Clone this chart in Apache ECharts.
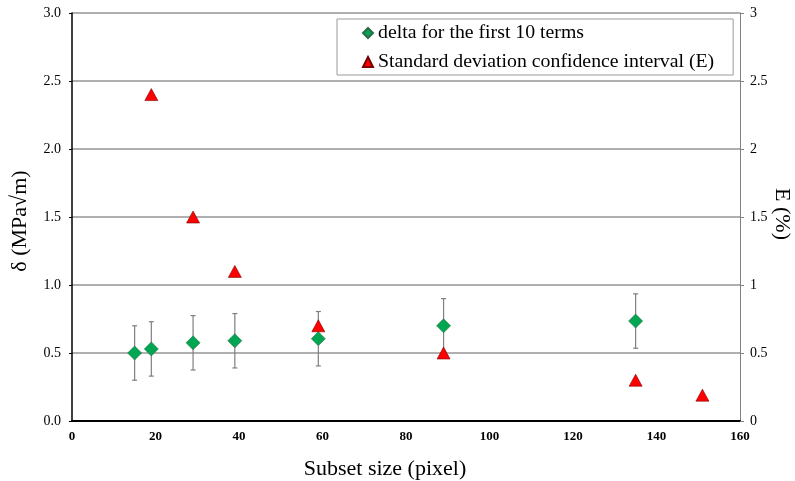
<!DOCTYPE html>
<html>
<head>
<meta charset="utf-8">
<script src="https://cdn.jsdelivr.net/npm/echarts@6/dist/echarts.min.js"></script>
<style>html,body{margin:0;padding:0;background:#fff;}#chart{width:795px;height:481px;}</style>
</head>
<body>
<div id="chart"></div>
<script>
var subsetSize = [15, 19, 29, 39, 59, 89, 135];
var deltaValues = [0.50, 0.53, 0.575, 0.59, 0.605, 0.70, 0.735];
var deltaError = [0.20, 0.20, 0.20, 0.20, 0.20, 0.20, 0.20];
var eSubsetSize = [19, 29, 39, 59, 89, 135, 151];
var eValues = [2.40, 1.50, 1.10, 0.70, 0.50, 0.30, 0.19];
var seriesNames = ['delta for the first 10 terms', 'Standard deviation confidence interval (E)'];

var FONT = 'Liberation Serif';
var chart = echarts.init(document.getElementById('chart'), null, {renderer: 'canvas'});

var deltaData = subsetSize.map(function (x, i) { return [x, deltaValues[i]]; });
var errData = subsetSize.map(function (x, i) { return [x, deltaValues[i] - deltaError[i], deltaValues[i] + deltaError[i]]; });
var eData = eSubsetSize.map(function (x, i) { return [x, eValues[i]]; });

var option = {
  backgroundColor: '#fff',
  animation: false,
  grid: {left: 72, right: 55, top: 13, bottom: 60, containLabel: false, outerBoundsMode: 'none'},
  legend: {
    data: [
      {name: seriesNames[0], icon: 'diamond'},
      {name: seriesNames[1], icon: 'triangle'}
    ],
    orient: 'vertical',
    left: 337, top: 19,
    padding: [4, 19, 3, 25],
    itemGap: 9,
    itemWidth: 10, itemHeight: 10,
    borderColor: '#9a9a9a', borderWidth: 1,
    textStyle: {fontFamily: FONT, fontSize: 19.8, color: '#000'}
  },
  xAxis: {
    type: 'value', min: 0, max: 160, interval: 20,
    name: 'Subset size (pixel)', nameLocation: 'middle', nameGap: 37, nameMoveOverlap: false,
    nameTextStyle: {fontFamily: FONT, fontSize: 22, color: '#000', padding: [0, 42, 0, 0]},
    axisLine: {lineStyle: {color: '#000', width: 2}},
    axisTick: {show: false},
    axisLabel: {fontFamily: FONT, fontSize: 13, fontWeight: 'bold', color: '#000', margin: 9},
    splitLine: {show: false}
  },
  yAxis: [{
    type: 'value', min: 0, max: 3, interval: 0.5, position: 'left',
    name: 'δ (MPa√m)', nameLocation: 'middle', nameGap: 41, nameMoveOverlap: false,
    nameTextStyle: {fontFamily: FONT, fontSize: 22, color: '#000', padding: [0, 8, 0, 0]},
    axisLine: {show: true, lineStyle: {color: '#000', width: 1.5}},
    axisTick: {show: true, length: 3, lineStyle: {color: '#000'}},
    axisLabel: {fontFamily: FONT, fontSize: 14, color: '#000', margin: 11,
      formatter: function (v) { return v.toFixed(1); }},
    splitLine: {show: true, lineStyle: {color: '#b0b0b0', width: 1.8}}
  }, {
    type: 'value', min: 0, max: 3, interval: 0.5, position: 'right',
    name: 'E (%)', nameLocation: 'middle', nameGap: 31, nameRotate: -90, nameMoveOverlap: false,
    nameTextStyle: {fontFamily: FONT, fontSize: 22, color: '#000', padding: [0, 6, 0, 0]},
    axisLine: {show: true, lineStyle: {color: '#808080', width: 1}},
    axisTick: {show: true, length: 4, lineStyle: {color: '#808080'}},
    axisLabel: {fontFamily: FONT, fontSize: 14, color: '#000', margin: 10},
    splitLine: {show: false}
  }],
  series: [{
    name: 'errorbars',
    type: 'custom',
    yAxisIndex: 0,
    data: errData,
    z: 1,
    renderItem: function (params, api) {
      var x = api.value(0);
      var lo = api.coord([x, api.value(1)]);
      var hi = api.coord([x, api.value(2)]);
      var cap = 2.5;
      var style = {stroke: '#7f7f7f', lineWidth: 1.2};
      return {type: 'group', children: [
        {type: 'line', shape: {x1: hi[0], y1: hi[1], x2: lo[0], y2: lo[1]}, style: style},
        {type: 'line', shape: {x1: hi[0] - cap, y1: hi[1], x2: hi[0] + cap, y2: hi[1]}, style: style},
        {type: 'line', shape: {x1: lo[0] - cap, y1: lo[1], x2: lo[0] + cap, y2: lo[1]}, style: style}
      ]};
    }
  }, {
    name: seriesNames[1],
    type: 'scatter',
    yAxisIndex: 1,
    data: eData,
    symbol: 'triangle',
    symbolSize: [13, 12],
    z: 3,
    itemStyle: {color: '#ff0000', borderColor: '#7a0000', borderWidth: 0.6, opacity: 1}
  }, {
    name: seriesNames[0],
    type: 'scatter',
    yAxisIndex: 0,
    data: deltaData,
    symbol: 'diamond',
    symbolSize: [14, 14],
    z: 4,
    itemStyle: {color: '#00a651', borderColor: '#2e6b45', borderWidth: 0.6, opacity: 1}
  }]
};
chart.setOption(option);
</script>
</body>
</html>
